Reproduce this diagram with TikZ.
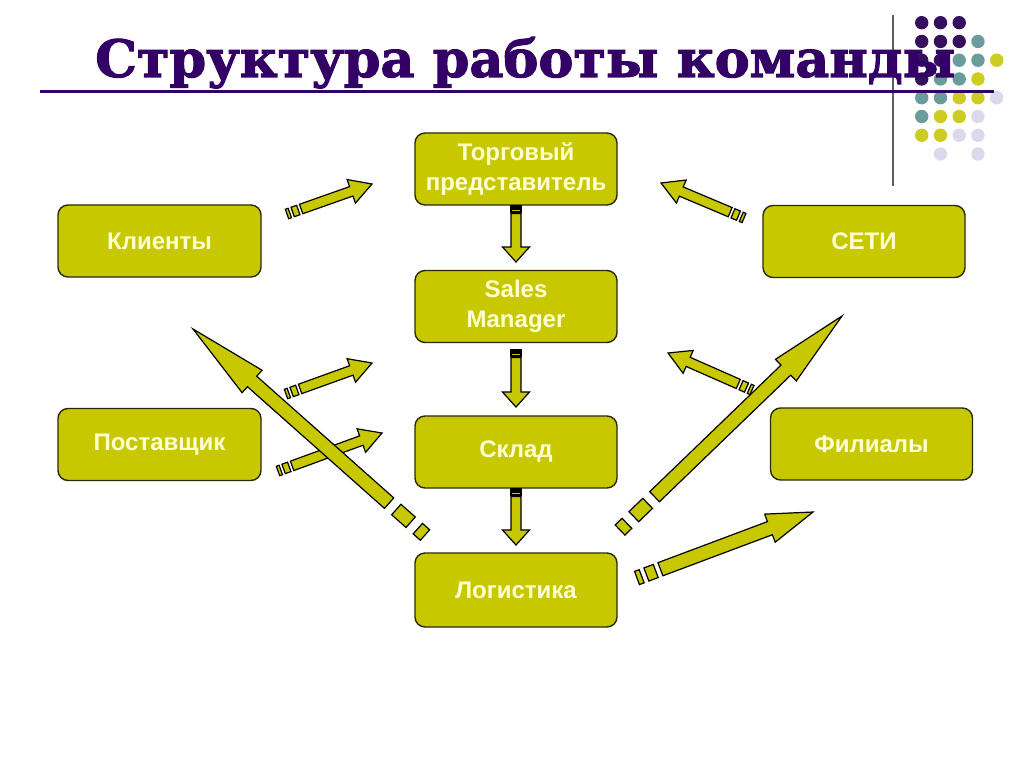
\documentclass[tikz,border=0pt]{standalone}
\usepackage{fontspec}
\setmainfont{Liberation Sans}
\newfontfamily\titlefont[BoldFeatures={FakeBold=2}]{DejaVu Serif}
\usetikzlibrary{calc}
\definecolor{boxyel}{HTML}{C8C800}
\definecolor{boxtxt}{HTML}{FFFFD0}
\definecolor{boxline}{HTML}{2A2A00}
\definecolor{titlepurple}{HTML}{330066}
\definecolor{dotpurple}{HTML}{34105F}
\definecolor{dotteal}{HTML}{6A9C9C}
\definecolor{dotyellow}{HTML}{CCCC22}
\definecolor{dotlav}{HTML}{DADAEA}
\definecolor{vline}{HTML}{606060}
\tikzset{
  box/.style={draw=boxline, line width=1.4pt, fill=boxyel, rounded corners=10pt,
    minimum width=202pt, minimum height=72pt, align=center, text=boxtxt,
    font=\bfseries\fontsize{24}{30}\selectfont, inner sep=0pt},
  arrowshape/.style={fill=boxyel, draw=black, line width=1.2pt},
}
\newcommand\blockarrow[6]{%
  \path let \p1=(#1), \p2=(#2) in
    \pgfextra{\pgfmathsetmacro\ArrAng{atan2(\y2-\y1,\x2-\x1)}\global\let\ArrAng\ArrAng
              \pgfmathsetmacro\ArrLen{veclen(\x2-\x1,\y2-\y1)}\global\let\ArrLen\ArrLen};
  \begin{scope}[shift={(#1)}, rotate=\ArrAng, x=1pt, y=1pt]
    \filldraw[arrowshape] (0,{-#3/2}) rectangle ({#6},{#3/2});
    \filldraw[arrowshape] ({2*#6},{-#3/2}) rectangle ({4*#6},{#3/2});
    \filldraw[arrowshape] ({5*#6},{-#3/2}) -- ({\ArrLen-#5},{-#3/2}) -- ({\ArrLen-#5},{-#4/2})
      -- (\ArrLen,0) -- ({\ArrLen-#5},{#4/2}) -- ({\ArrLen-#5},{#3/2}) -- ({5*#6},{#3/2}) -- cycle;
  \end{scope}}
\begin{document}
\begin{tikzpicture}[x=1pt, y=-1pt]
\useasboundingbox[fill=white] (0,0) rectangle (1024,767);
% decorative dots
\foreach \c/\r in {0/0,1/0,2/0,0/1,1/1,2/1,0/2,1/2,0/3}
  \fill[dotpurple] ({921.7+18.75*\c},{22.7+18.76*\r}) circle (6.7);
\foreach \c/\r in {3/1,2/2,3/2,1/3,2/3,0/4,1/4,0/5}
  \fill[dotteal] ({921.7+18.75*\c},{22.7+18.76*\r}) circle (6.7);
\foreach \c/\r in {4/2,3/3,2/4,3/4,1/5,2/5,0/6,1/6}
  \fill[dotyellow] ({921.7+18.75*\c},{22.7+18.76*\r}) circle (6.7);
\foreach \c/\r in {4/4,3/5,2/6,3/6,1/7,3/7}
  \fill[dotlav] ({921.7+18.75*\c},{22.7+18.76*\r}) circle (6.7);
% lines
\coordinate (vtop) at (893,15);
\coordinate (vbot) at (893,186);
\draw[vline, line width=1.3pt] (vtop) -- (vbot);
\coordinate (ul) at (40,92);
\coordinate (ur) at (994,92);
\draw[titlepurple, line width=3pt] (ul) -- (ur);
% title
\node[anchor=base west, inner sep=0pt, text=titlepurple] (title) at (95,77)
  {\resizebox{860pt}{40pt}{\titlefont\bfseries Структура работы команды}};
% boxes
\node[box] (trade) at (516,169) {Торговый\\представитель};
\node[box] (sales) at (516,306.5) {Sales\\Manager};
\node[box] (sklad) at (516,452) {Склад};
\node[box, minimum height=74pt] (logist) at (516,590) {Логистика};
\node[box, minimum width=203pt] (klient) at (159.5,241) {Клиенты};
\node[box, minimum width=203pt] (post) at (159.5,444.5) {Поставщик};
\node[box] (seti) at (864,241.5) {СЕТИ};
\node[box] (filial) at (871.5,444) {Филиалы};
% arrow end points
\coordinate (a1t) at (287,214);  \coordinate (a1h) at (372,184);
\coordinate (a2t) at (744,218);  \coordinate (a2h) at (661,183);
\coordinate (a3t) at (286,394);  \coordinate (a3h) at (372,363);
\coordinate (a4t) at (278,471);  \coordinate (a4h) at (382,433);
\coordinate (a5t) at (752,390);  \coordinate (a5h) at (668,353);
\coordinate (d1t) at (516,206);  \coordinate (d1h) at (516,262);
\coordinate (d2t) at (516,350);  \coordinate (d2h) at (516,407);
\coordinate (d3t) at (516,489);  \coordinate (d3h) at (516,545);
\coordinate (a6t) at (425,535);  \coordinate (a6h) at (193,329);
\coordinate (a7t) at (620,530);  \coordinate (a7h) at (842,316);
\coordinate (a8t) at (637,578);  \coordinate (a8h) at (813,512);
% small arrows
\blockarrow{a1t}{a1h}{10}{25}{22}{3}
\blockarrow{a2t}{a2h}{10}{25}{22}{3}
\blockarrow{a3t}{a3h}{10}{25}{22}{3}
\blockarrow{a4t}{a4h}{10}{25}{22}{3}
\blockarrow{a5t}{a5h}{10}{25}{22}{3}
% down arrows
\blockarrow{d1t}{d1h}{10}{27}{15}{1.5}
\blockarrow{d2t}{d2h}{10}{27}{15}{1.5}
\blockarrow{d3t}{d3h}{10}{27}{15}{1.5}
% big arrows
\blockarrow{a6t}{a6h}{14}{30}{79}{9.6}
\blockarrow{a7t}{a7h}{14}{30}{78}{9.6}
\blockarrow{a8t}{a8h}{14}{30}{46}{5}
\end{tikzpicture}
\end{document}
